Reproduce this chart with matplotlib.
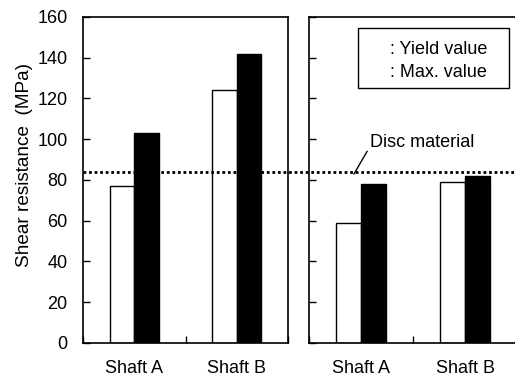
import matplotlib
matplotlib.use("Agg")
import matplotlib.pyplot as plt
from matplotlib.patches import Rectangle
from matplotlib import transforms

plt.rcParams['font.family'] = ['Liberation Sans', 'DejaVu Sans']
plt.rcParams['font.size'] = 13

shafts = ['Shaft A', 'Shaft B']
# left group
yield_left = [77, 124]
max_left = [103, 142]
# right group
yield_right = [59, 79]
max_right = [78, 82]
disc_material = 84

fig = plt.figure(figsize=(5.15, 3.89), dpi=100)
ax1 = fig.add_axes([0.1612, 0.1183, 0.398, 0.838])
ax2 = fig.add_axes([0.600, 0.1183, 0.404, 0.838])

w = 0.24
x = [0, 1]
for ax, yv, mv in [(ax1, yield_left, max_left), (ax2, yield_right, max_right)]:
    ax.bar([i - w / 2 for i in x], yv, w, color='white', edgecolor='black', linewidth=1)
    ax.bar([i + w / 2 for i in x], mv, w, color='black', edgecolor='black', linewidth=1)
    ax.set_xlim(-0.5, 1.5)
    ax.set_ylim(0, 160)
    ax.set_yticks(range(0, 161, 20))
    ax.set_xticks(x)
    ax.set_xticklabels(shafts)
    ax.set_xticks([-0.5, 0.5, 1.5], minor=True)
    ax.tick_params(axis='x', which='major', length=0, pad=12)
    ax.tick_params(axis='x', which='minor', direction='in', length=5, width=1)
    ax.tick_params(axis='y', direction='in', length=5, width=1, pad=11)
    for s in ax.spines.values():
        s.set_linewidth(1.2)

ax2.set_yticklabels([])
ax1.set_ylabel('Shear resistance  (MPa)', fontsize=13.7)
ax1.yaxis.set_label_coords(-0.243, 0.546)

# disc material level across both panels
tr = transforms.blended_transform_factory(fig.transFigure, ax1.transData)
fig.add_artist(plt.Line2D([0.1612, 1.0], [disc_material, disc_material], transform=tr,
                          color='black', linestyle=(0, (1, 1)), linewidth=2))
ax2.plot([-0.067, 0.058], [disc_material - 1, 94], color='black', linewidth=1)
ax2.text(0.087, 98.6, 'Disc material', ha='left', va='center')

# legend box
ax2.add_patch(Rectangle((0.236, 0.782), 0.726, 0.184, transform=ax2.transAxes,
                        facecolor='white', edgecolor='black', linewidth=1))
ax2.text(0.389, 0.899, ': Yield value', transform=ax2.transAxes, va='center')
ax2.text(0.389, 0.831, ': Max. value', transform=ax2.transAxes, va='center')

fig.savefig('out.png', dpi=100)
